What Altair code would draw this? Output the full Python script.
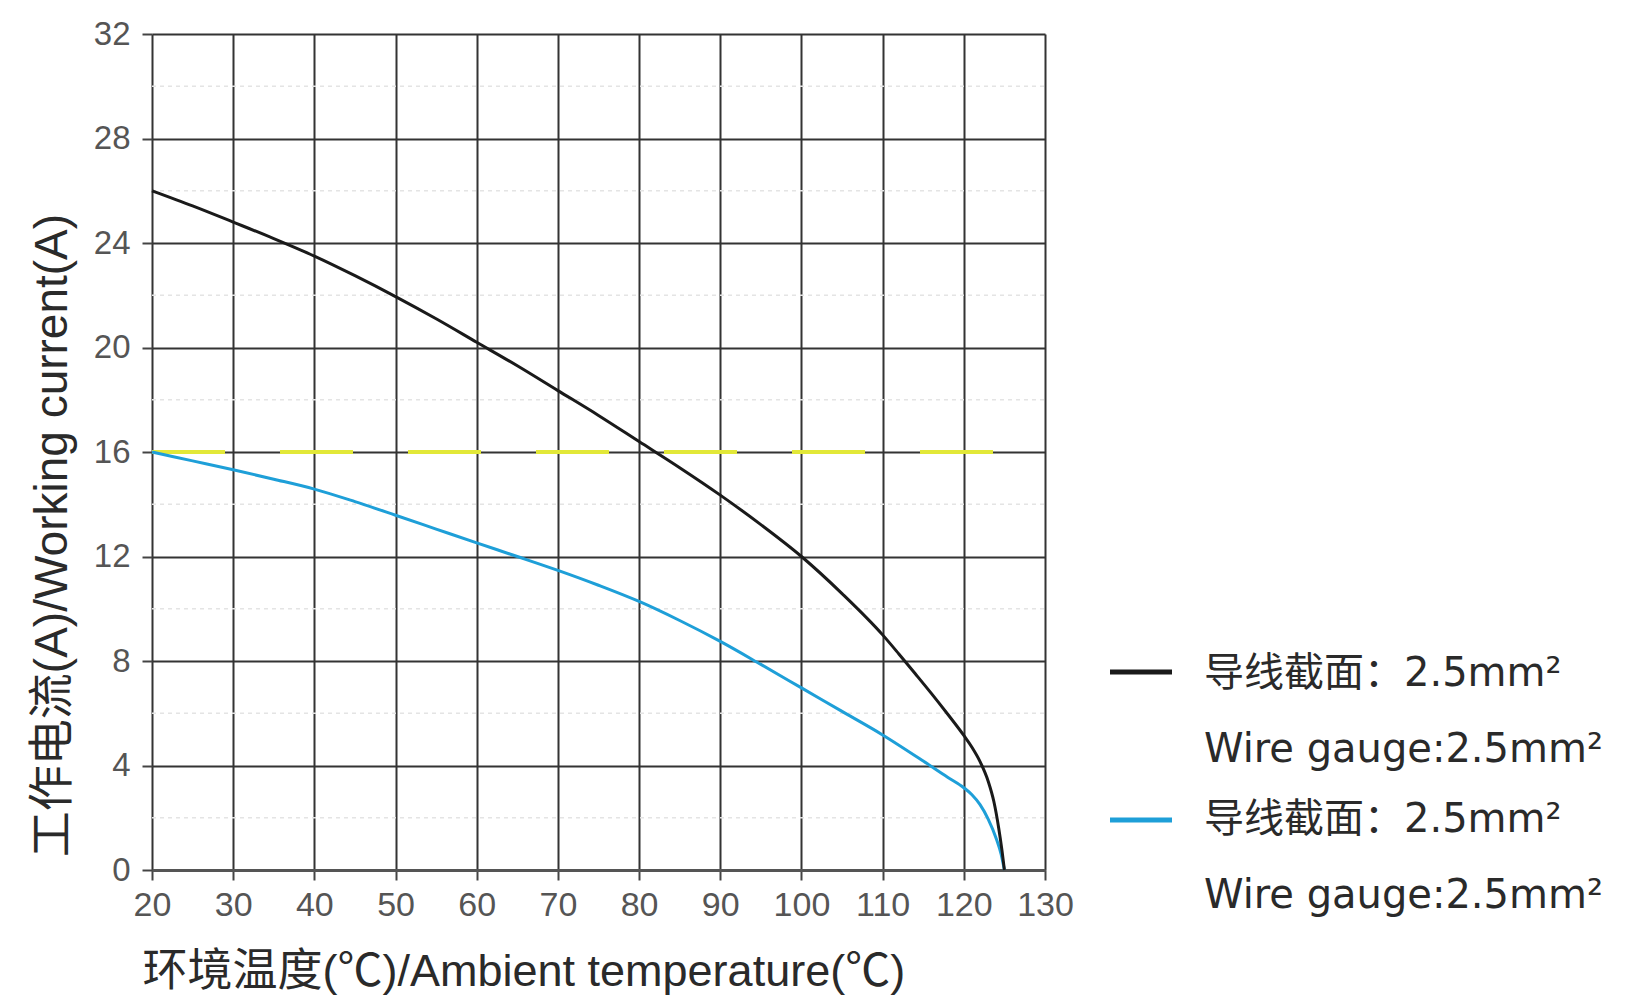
import altair as alt
import pandas as pd

# ---- data ----
temp_black = [20, 25, 30, 35, 40, 45, 50, 55, 60, 65, 70, 75, 80, 85, 90, 95, 100,
              105, 110, 112, 114, 116, 118, 120, 121, 122, 123, 123.7, 124.3, 124.7, 125]
curr_black = [26.0, 25.42, 24.8, 24.17, 23.5, 22.75, 21.95, 21.1, 20.2, 19.3, 18.35,
              17.4, 16.4, 15.4, 14.35, 13.22, 12.0, 10.58, 9.0, 8.27, 7.52, 6.76, 5.97,
              5.15, 4.7, 4.15, 3.4, 2.62, 1.6, 0.75, 0.0]
temp_blue = [20, 25, 30, 35, 40, 45, 50, 55, 60, 65, 70, 75, 80, 85, 90, 95, 100,
             105, 110, 115, 118, 120, 121, 122, 123, 124, 124.6, 125]
curr_blue = [16.0, 15.66, 15.32, 14.96, 14.58, 14.1, 13.58, 13.05, 12.52, 12.0, 11.47,
             10.9, 10.28, 9.55, 8.75, 7.87, 6.97, 6.07, 5.17, 4.17, 3.55, 3.15, 2.88,
             2.5, 1.95, 1.2, 0.6, 0.0]
rated_x = [20]
rated_x2 = [125]
rated_y = [16]
x_ticks = [20, 30, 40, 50, 60, 70, 80, 90, 100, 110, 120, 130]
y_ticks = [0, 4, 8, 12, 16, 20, 24, 28, 32]
minor_y = [2, 6, 10, 14, 18, 22, 26, 30]
legend_cn = "导线截面：2.5mm²"
legend_en = "Wire gauge:2.5mm²"
x_title = "环境温度(℃)/Ambient temperature(℃)"
y_title = "工作电流(A)/Working current(A)"

BLACK = "#1a1a1a"
BLUE = "#1e9fd8"
YELLOW = "#e2e838"
AXFONT = "Liberation Sans, Noto Sans CJK SC"
LEGFONT = "DejaVu Sans, Noto Sans CJK SC"

black_df = pd.DataFrame({"t": temp_black, "c": curr_black})
blue_df = pd.DataFrame({"t": temp_blue, "c": curr_blue})
rated_df = pd.DataFrame({"x": rated_x, "x2": rated_x2, "y": rated_y})
minor_df = pd.DataFrame({"y": minor_y})

xs = alt.Scale(domain=[20, 130], nice=False, zero=False)
ys = alt.Scale(domain=[0, 32], nice=False)

x_axis = alt.Axis(values=x_ticks, grid=True, gridColor="#333333", gridWidth=2,
                  domainColor="#555555", domainWidth=3, tickColor="#444444",
                  tickSize=10, tickWidth=2, labelFont=AXFONT, labelFontSize=34,
                  labelColor="#555555", labelPadding=8, labelOverlap=False,
                  labelFlush=False,
                  title=x_title, titleFont=AXFONT, titleFontSize=45,
                  titleFontWeight="normal", titleColor="#2a2a2a", titleX=-10,
                  titleY=115, titleAlign="left", titleBaseline="alphabetic")
y_axis = alt.Axis(values=y_ticks, grid=True, gridColor="#333333", gridWidth=2,
                  domain=False, tickColor="#444444", tickSize=10, tickWidth=2,
                  labelFont=AXFONT, labelFontSize=33, labelColor="#555555",
                  labelPadding=12, labelOverlap=False, labelFlush=False,
                  title=y_title, titleFont=AXFONT,
                  titleFontSize=46, titleFontWeight="normal", titleColor="#2a2a2a",
                  titleAngle=270, titleX=-100, titleY=501, titleAlign="center",
                  titleBaseline="middle")

minor = alt.Chart(minor_df).mark_rule(color="#e4e4e4", strokeWidth=1.5,
                                      strokeDash=[4, 4]).encode(
    y=alt.Y("y:Q", scale=ys, axis=y_axis),
    x=alt.value(0), x2=alt.value(893))

frame = alt.Chart(rated_df).mark_rule(opacity=0).encode(
    x=alt.X("x:Q", scale=xs, axis=x_axis))

rated = alt.Chart(rated_df).mark_rule(color=YELLOW, strokeWidth=4,
                                      strokeDash=[73, 55]).encode(
    x=alt.X("x:Q", scale=xs), x2="x2:Q", y=alt.Y("y:Q", scale=ys))

black = alt.Chart(black_df).mark_line(color=BLACK, strokeWidth=3,
                                      interpolate="monotone").encode(
    x=alt.X("t:Q", scale=xs), y=alt.Y("c:Q", scale=ys))
blue = alt.Chart(blue_df).mark_line(color=BLUE, strokeWidth=3,
                                    interpolate="monotone").encode(
    x=alt.X("t:Q", scale=xs), y=alt.Y("c:Q", scale=ys))

# ---- manual legend ----
def leg_line(color, y):
    return alt.Chart(rated_df).mark_rule(color=color, strokeWidth=5).encode(
        x=alt.value(958), x2=alt.value(1020), y=alt.value(y))

def leg_text(txt, y):
    return alt.Chart(rated_df).mark_text(align="left", baseline="middle", font=LEGFONT,
                                         fontSize=40, color="#2a2a2a").encode(
        x=alt.value(1052), y=alt.value(y), text=alt.value(txt))

legend = [leg_line(BLACK, 638), leg_text(legend_cn, 640), leg_text(legend_en, 716),
          leg_line(BLUE, 786), leg_text(legend_cn, 786), leg_text(legend_en, 862)]

chart = alt.layer(minor, frame, rated, blue, black, *legend).properties(
    width=893, height=836,
    autosize=alt.AutoSizeParams(type="none"),
    padding={"left": 144, "top": 26, "right": 590, "bottom": 128},
    background="white",
).configure_view(stroke=None)

chart.save("out.html", embed_options={"renderer": "svg", "actions": False})
